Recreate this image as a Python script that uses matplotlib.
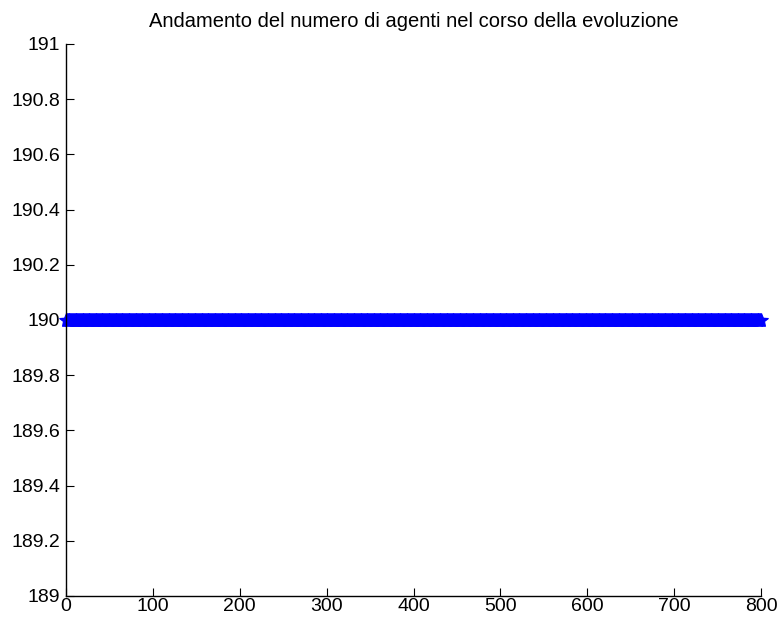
import numpy as np
import matplotlib
matplotlib.use('Agg')
import matplotlib.pyplot as plt

plt.rcParams['font.family'] = ['Liberation Sans', 'DejaVu Sans']

# data: number of agents per generation (constant at 190)
generations = np.arange(0, 801)
agents = np.full(len(generations), 190.0)

x_ticks = [0, 100, 200, 300, 400, 500, 600, 700, 800]
y_ticks = [189, 189.2, 189.4, 189.6, 189.8, 190, 190.2, 190.4, 190.6, 190.8, 191]
y_labels = ['189', '189.2', '189.4', '189.6', '189.8', '190',
            '190.2', '190.4', '190.6', '190.8', '191']

fig = plt.figure(figsize=(7.8, 6.19), dpi=100)
ax = fig.add_axes([66 / 780, 1 - 596 / 619, (761 - 66) / 780, (596 - 44) / 619])

ax.plot(generations, agents, linestyle='-', color='blue', marker='*',
        markersize=10, markeredgewidth=0.8, linewidth=1, clip_on=False)

ax.set_xlim(0, 800)
ax.set_ylim(189, 191)
ax.set_xticks(x_ticks)
ax.set_yticks(y_ticks)
ax.set_yticklabels(y_labels)
ax.spines['top'].set_visible(False)
ax.spines['right'].set_visible(False)
ax.tick_params(direction='in', length=6, width=0.8, labelsize=14)
ax.tick_params(axis='y', pad=4)
ax.tick_params(axis='x', pad=1.5)
for s in ax.spines.values():
    s.set_linewidth(1.0)

ax.set_title('Andamento del numero di agenti nel corso della evoluzione',
             fontsize=14.5, pad=12)

fig.savefig('out.png', dpi=100)
